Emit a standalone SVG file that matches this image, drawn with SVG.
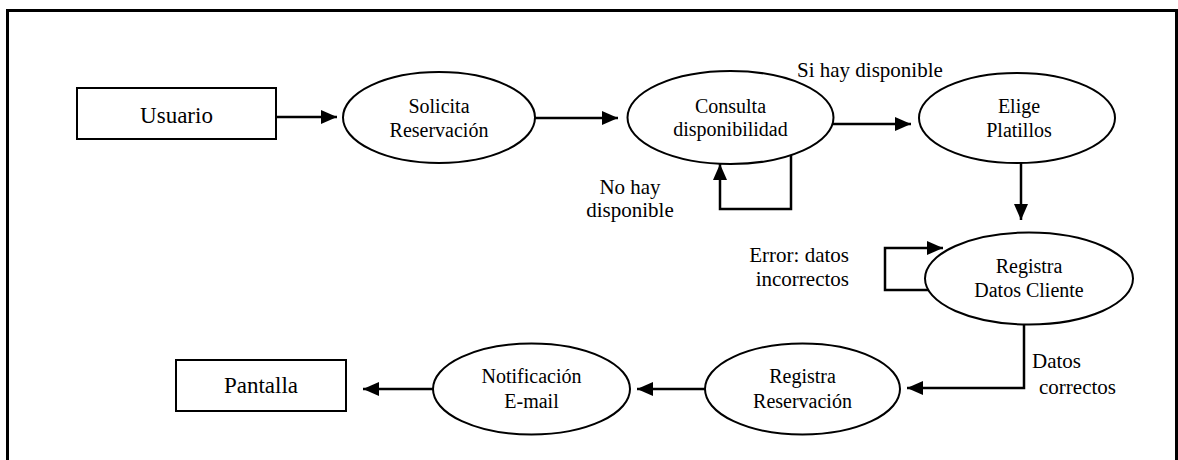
<svg xmlns="http://www.w3.org/2000/svg" width="1178" height="460" viewBox="0 0 1178 460">
  <style>
    .shape { fill: #ffffff; stroke: #000000; stroke-width: 2; }
    .frame { fill: none; stroke: #000000; stroke-width: 3; }
    .conn { fill: none; stroke: #000000; stroke-width: 2.5; }
    .lbl { font-family: "Liberation Serif", "Times New Roman", serif; font-size: 20px; fill: #000000; text-anchor: middle; }
    .box { font-family: "Liberation Serif", "Times New Roman", serif; font-size: 23px; fill: #000000; text-anchor: middle; }
    .note { font-family: "Liberation Serif", "Times New Roman", serif; font-size: 21px; fill: #000000; }
  </style>
  <defs>
    <marker id="arrow" viewBox="0 0 16 14" refX="16" refY="7" markerWidth="16" markerHeight="14" markerUnits="userSpaceOnUse" orient="auto">
      <path d="M0,0 L16,7 L0,14 Z" fill="#000000"/>
    </marker>
  </defs>
  <rect width="1178" height="460" fill="#ffffff"/>
  <path class="frame" d="M7.5,470 L7.5,10.5 L1176.5,10.5 L1176.5,470"/>

  <g id="connectors">
    <line class="conn" x1="276" y1="117" x2="337" y2="117" marker-end="url(#arrow)"/>
    <line class="conn" x1="535" y1="118" x2="618" y2="118" marker-end="url(#arrow)"/>
    <line class="conn" x1="833" y1="124" x2="911" y2="124" marker-end="url(#arrow)"/>
    <polyline class="conn" points="791,154 791,209 720,209 720,164" marker-end="url(#arrow)"/>
    <line class="conn" x1="1021" y1="163" x2="1021" y2="220" marker-end="url(#arrow)"/>
    <polyline class="conn" points="930,290 885,290 885,248 943,248" marker-end="url(#arrow)"/>
    <polyline class="conn" points="1024,324 1024,388 907,388" marker-end="url(#arrow)"/>
    <line class="conn" x1="705" y1="389" x2="637" y2="389" marker-end="url(#arrow)"/>
    <line class="conn" x1="433" y1="389" x2="363" y2="389" marker-end="url(#arrow)"/>
  </g>

  <g id="usuario">
    <rect class="shape" x="77" y="88" width="199" height="51"/>
    <text class="box" x="176.5" y="122.5">Usuario</text>
  </g>

  <g id="solicita">
    <ellipse class="shape" cx="439" cy="117.5" rx="96" ry="45.5"/>
    <text class="lbl" x="439" y="113">Solicita</text>
    <text class="lbl" x="439" y="137">Reservación</text>
  </g>

  <g id="consulta">
    <ellipse class="shape" cx="730.5" cy="117.5" rx="103" ry="46.5"/>
    <text class="lbl" x="730.5" y="113">Consulta</text>
    <text class="lbl" x="730.5" y="136">disponibilidad</text>
  </g>

  <g id="elige">
    <ellipse class="shape" cx="1017" cy="118" rx="98" ry="45"/>
    <text class="lbl" x="1019" y="113">Elige</text>
    <text class="lbl" x="1019" y="137">Platillos</text>
  </g>

  <g id="registra-datos">
    <ellipse class="shape" cx="1029" cy="278.5" rx="104" ry="46"/>
    <text class="lbl" x="1029" y="273">Registra</text>
    <text class="lbl" x="1029" y="297">Datos Cliente</text>
  </g>

  <g id="registra-reservacion">
    <ellipse class="shape" cx="802.5" cy="389" rx="97.5" ry="45.5"/>
    <text class="lbl" x="802.5" y="383">Registra</text>
    <text class="lbl" x="802.5" y="408">Reservación</text>
  </g>

  <g id="notificacion">
    <ellipse class="shape" cx="531.5" cy="389" rx="98.5" ry="45.5"/>
    <text class="lbl" x="531.5" y="383">Notificación</text>
    <text class="lbl" x="531.5" y="408">E-mail</text>
  </g>

  <g id="pantalla">
    <rect class="shape" x="176" y="360" width="170" height="51"/>
    <text class="box" x="261" y="393">Pantalla</text>
  </g>

  <g id="labels">
    <text class="note" x="797" y="77">Si hay disponible</text>
    <text class="note" x="630" y="194" text-anchor="middle">No hay</text>
    <text class="note" x="630" y="217" text-anchor="middle">disponible</text>
    <text class="note" x="849" y="261.5" text-anchor="end">Error: datos</text>
    <text class="note" x="849" y="285.5" text-anchor="end">incorrectos</text>
    <text class="note" x="1032" y="368">Datos</text>
    <text class="note" x="1039" y="394">correctos</text>
  </g>
</svg>
